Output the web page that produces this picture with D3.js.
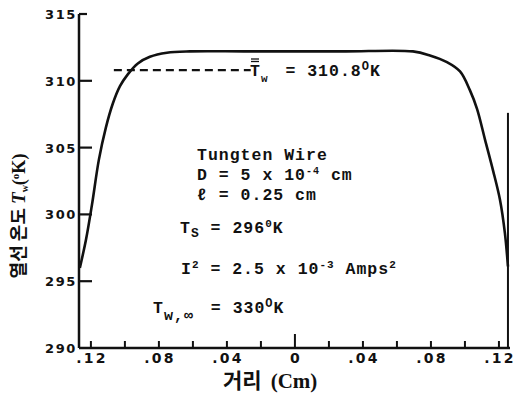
<!DOCTYPE html>
<html>
<head>
<meta charset="utf-8">
<script src="https://cdn.jsdelivr.net/npm/d3@7"></script>
<style>
  body { margin: 0; background: #fff; }
  svg { display: block; }
</style>
</head>
<body>
<div id="chart"></div>
<script>
// ------------------------------------------------------------
// data
// ------------------------------------------------------------
// wire position (cm), left end is negative
var position = [-0.1265, -0.1229, -0.1194, -0.1153, -0.1112, -0.1071, -0.1029, -0.0982,
                -0.0924, -0.0853, -0.0753, -0.0618, -0.03, 0, 0.03, 0.0694, 0.0794,
                0.0894, 0.0971, 0.1029, 0.1071, 0.1118, 0.1165, 0.1206, 0.1235, 0.1253];
// wire temperature (K)
var temperature = [296.0, 298.1, 300.7, 304.1, 306.5, 308.3, 309.6, 310.5,
                   311.3, 311.8, 312.1, 312.2, 312.2, 312.2, 312.2, 312.2, 311.9,
                   311.4, 310.7, 309.3, 307.9, 305.6, 303.3, 301.1, 298.6, 296.1];

var meanTemp = 310.8;
var meanLineX = [-0.1065, -0.026];
var edgeLineX = 0.1253;
var edgeLineTop = 307.6;

var yTicks = [290, 295, 300, 305, 310, 315];
var xTicks = [-0.12, -0.1, -0.08, -0.06, -0.04, -0.02, 0, 0.02, 0.04, 0.06, 0.08, 0.1, 0.12];
var xLabelTicks = [-0.12, -0.08, -0.04, 0, 0.04, 0.08, 0.12];

// ------------------------------------------------------------
// canvas
// ------------------------------------------------------------
var W = 518, H = 402;
var svg = d3.select("#chart").append("svg")
    .attr("width", W)
    .attr("height", H);

var x = d3.scaleLinear().domain([-0.127, 0.1265]).range([79, 510]);
var y = d3.scaleLinear().domain([290, 315]).range([348, 14]);

var ink = "#111";

// axes lines
svg.append("line")
    .attr("x1", x(-0.127)).attr("x2", x(-0.127))
    .attr("y1", y(290)).attr("y2", y(315))
    .attr("stroke", ink).attr("stroke-width", 2.5);
svg.append("line")
    .attr("x1", x(-0.127)).attr("x2", x(0.1265))
    .attr("y1", y(290)).attr("y2", y(290))
    .attr("stroke", ink).attr("stroke-width", 2.5);

// y ticks (pointing inward)
svg.append("g").selectAll("line")
    .data(yTicks.filter(d => d > 290))
    .enter().append("line")
    .attr("x1", x(-0.127))
    .attr("x2", d => x(-0.127) + (d === 315 ? 8 : 13))
    .attr("y1", d => y(d)).attr("y2", d => y(d))
    .attr("stroke", ink).attr("stroke-width", 2.2);

svg.append("g").selectAll("text")
    .data(yTicks)
    .enter().append("text")
    .attr("x", 77)
    .attr("y", d => y(d))
    .attr("dy", "0.38em")
    .attr("text-anchor", "end")
    .attr("font-family", "DejaVu Sans")
    .attr("font-weight", "bold")
    .attr("font-size", 13)
    .attr("letter-spacing", 1.6)
    .attr("fill", ink)
    .text(d => d);

// x ticks (pointing up)
svg.append("g").selectAll("line")
    .data(xTicks)
    .enter().append("line")
    .attr("x1", d => x(d)).attr("x2", d => x(d))
    .attr("y1", y(290))
    .attr("y2", d => y(290) - (d === 0 ? 14 : 7))
    .attr("stroke", ink).attr("stroke-width", 2);

svg.append("g").selectAll("text")
    .data(xLabelTicks)
    .enter().append("text")
    .attr("x", d => x(d) + 1)
    .attr("y", 363)
    .attr("text-anchor", "middle")
    .attr("font-family", "DejaVu Sans")
    .attr("font-weight", "bold")
    .attr("font-size", 14)
    .attr("letter-spacing", 2.2)
    .attr("fill", ink)
    .text(d => d === 0 ? "0" : d3.format(".2f")(Math.abs(d)).replace(/^0/, ""));

// axis titles
svg.append("text")
    .attr("x", 223)
    .attr("y", 388)
    .attr("fill", ink)
    .call(t => {
        t.append("tspan").attr("font-family", "Noto Sans CJK KR").attr("font-weight", "bold")
            .attr("font-size", 21).text("거리");
        t.append("tspan").attr("font-family", "Liberation Serif").attr("font-weight", "bold")
            .attr("font-size", 21).attr("dx", 9).text("(Cm)");
    });

svg.append("text")
    .attr("transform", "translate(25,216) rotate(-90)")
    .attr("text-anchor", "middle")
    .attr("fill", ink)
    .call(t => {
        t.append("tspan").attr("font-family", "Noto Sans CJK KR").attr("font-weight", "bold")
            .attr("font-size", 18).text("열선 온도 ");
        t.append("tspan").attr("font-family", "Liberation Serif").attr("font-weight", "bold")
            .attr("font-style", "italic").attr("font-size", 19).text("T");
        t.append("tspan").attr("font-family", "Liberation Serif").attr("font-weight", "bold")
            .attr("font-size", 10).attr("dy", 3).text("w");
        t.append("tspan").attr("font-family", "Liberation Serif").attr("font-weight", "bold")
            .attr("font-size", 18).attr("dy", -3).text("(");
        t.append("tspan").attr("font-family", "Liberation Serif").attr("font-weight", "bold")
            .attr("font-size", 11).attr("dy", -6).text("o");
        t.append("tspan").attr("font-family", "Liberation Serif").attr("font-weight", "bold")
            .attr("font-size", 18).attr("dy", 6).text("K)");
    });

// ------------------------------------------------------------
// temperature profile
// ------------------------------------------------------------
var profile = position.map((p, i) => [p, temperature[i]]);

var line = d3.line()
    .x(d => x(d[0]))
    .y(d => y(d[1]))
    .curve(d3.curveCatmullRom.alpha(0.5));

svg.append("path")
    .datum(profile)
    .attr("d", line)
    .attr("fill", "none")
    .attr("stroke", ink)
    .attr("stroke-width", 2.6);

// right edge line
svg.append("line")
    .attr("x1", x(edgeLineX)).attr("x2", x(edgeLineX))
    .attr("y1", y(290)).attr("y2", y(edgeLineTop))
    .attr("stroke", ink).attr("stroke-width", 2);

// mean temperature dashed line
svg.append("line")
    .attr("x1", x(meanLineX[0])).attr("x2", x(meanLineX[1]))
    .attr("y1", y(meanTemp)).attr("y2", y(meanTemp))
    .attr("stroke", ink).attr("stroke-width", 2.4)
    .attr("stroke-dasharray", "8,5");

// ------------------------------------------------------------
// annotations (typewriter)
// ------------------------------------------------------------
var mono = "Liberation Mono";

function note(xp, yp) {
    return svg.append("text")
        .attr("x", xp).attr("y", yp)
        .attr("font-family", mono)
        .attr("font-weight", "bold")
        .attr("font-size", 16.5)
        .attr("letter-spacing", 1)
        .attr("fill", ink);
}
function sup(t, s, size) {
    t.append("tspan").attr("font-size", size || 11).attr("dy", -6).text(s);
    return t;
}
function down(t, s) {
    t.append("tspan").attr("dy", 6).text(s);
    return t;
}

// T-bar w = 310.8 K
var tw = note(250, 76);
tw.append("tspan").text("T");
tw.append("tspan").attr("font-size", 11).attr("dy", 6).text("w");
tw.append("tspan").attr("dy", -6).attr("dx", 6).text(" = 310.8");
sup(tw, "O", 12);
down(tw, "K");
svg.append("line").attr("x1", 251).attr("x2", 259).attr("y1", 59).attr("y2", 59)
    .attr("stroke", ink).attr("stroke-width", 1.3);
svg.append("line").attr("x1", 251).attr("x2", 259).attr("y1", 61.5).attr("y2", 61.5)
    .attr("stroke", ink).attr("stroke-width", 1.3);

note(197, 160).text("Tungten Wire");

var d1 = note(197, 180).text("D = 5 x 10");
sup(d1, "-4", 10);
down(d1, " cm");

note(197, 200).text("\u2113 = 0.25 cm");

var ts = note(180, 233).text("T");
ts.append("tspan").attr("font-size", 13).attr("dy", 4).text("S");
ts.append("tspan").attr("dy", -4).text(" = 296");
sup(ts, "0", 11);
down(ts, "K");

var ii = note(181, 274).text("I");
sup(ii, "2", 11);
down(ii, " = 2.5 x 10");
sup(ii, "-3", 11);
down(ii, " Amps");
sup(ii, "2", 11);

var tinf = note(153, 313).text("T");
tinf.append("tspan").attr("font-size", 15).attr("dy", 7).text("w,\u221e");
tinf.append("tspan").attr("dy", -7).attr("dx", 6).text(" = 330");
sup(tinf, "O", 12);
down(tinf, "K");
</script>
</body>
</html>
